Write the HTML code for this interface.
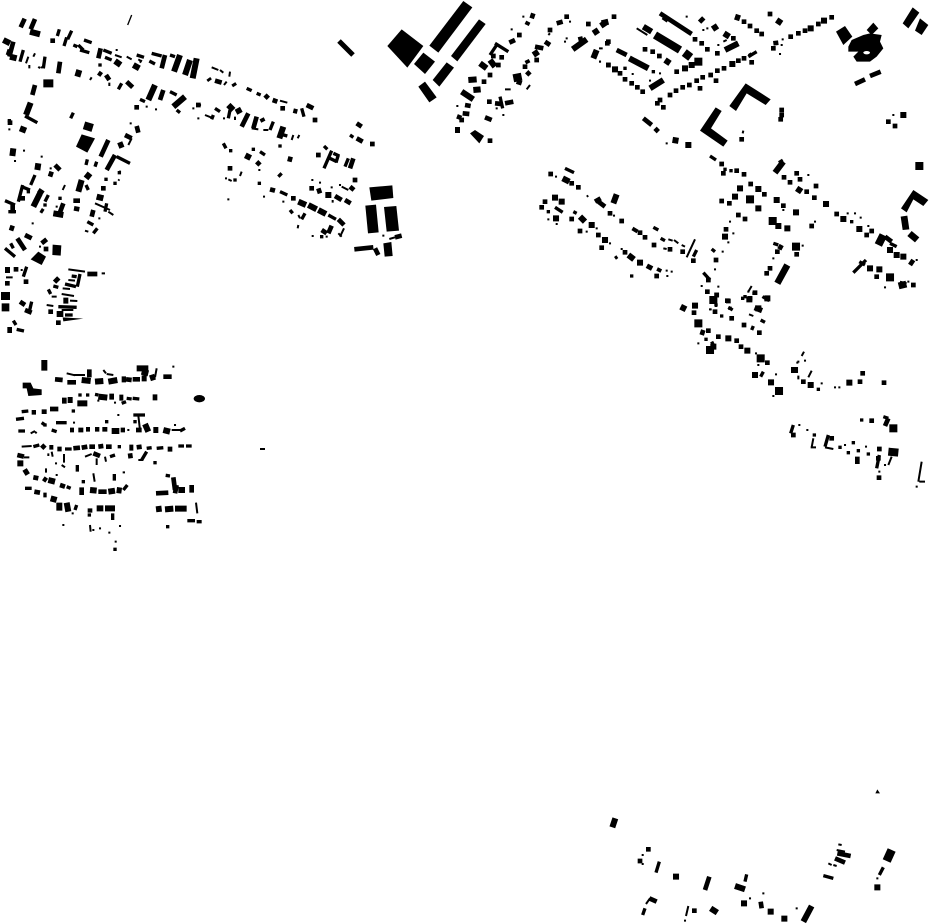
<!DOCTYPE html>
<html><head><meta charset="utf-8"><title>Map</title>
<style>
html,body{margin:0;padding:0;background:#fff}
svg{display:block}
path{fill:none;stroke:#000}
polygon,ellipse{fill:#000;stroke:none}
.a,.A{stroke-width:6}.b,.B{stroke-width:10}.c,.C{stroke-width:14}.e,.E{stroke-width:18}.f,.F{stroke-width:24}
.A,.B,.C,.E,.F{stroke-linecap:square}
</style></head><body>
<svg width="930" height="924" viewBox="0 0 930 924" xmlns="http://www.w3.org/2000/svg">
<rect width="930" height="924" fill="#fff"/>
<path d="M339 41L353 55" style="stroke-width:5"/>
<path d="M260 449L265 449" style="stroke-width:2"/>

<!-- region 1 -->
<g transform="scale(.33333)">
<path d="M395 45L383 75" style="stroke-width:4"/>
<path class="a" d="M345 165L365 172M380 170L395 178M415 178L425 185M85 170L78 190M105 160L100 170M88 195L88 205M115 200L120 205M275 232L270 240M328 248L328 258M395 415L385 435M425 180L420 188"/>
<path class="b" d="M178 88L172 108M215 92L203 118M200 112L192 138M220 135L232 140M252 120L275 128M240 150L268 158M235 135L250 150M310 150L335 160M315 172L335 180M410 165L432 172M455 160L485 168M448 183L465 192M510 165L525 170M70 150L60 185M135 170L130 205M365 250L355 268M75 348L112 368M220 338L212 355M350 470L390 490M262 478L258 495M290 485L285 500M420 298L435 305M510 275L530 285M530 330L540 338"/>
<path class="c" d="M62 82L74 56M105 57L92 88M302 145L295 175M495 165L485 205M40 125L28 170M180 185L175 220M295 218L305 225M318 225L328 240M380 245L398 262M105 255L97 285M325 420L302 470M410 378L415 398M375 405L395 415M345 465L320 510M490 270L480 300M165 495L180 510"/>
<path class="e" d="M90 95L120 103M345 183L362 195M400 195L418 205M10 120L30 130M20 155L35 160M30 170L50 175M92 308L78 345M60 385L78 392M355 438L370 432M40 445L37 468M115 490L112 510M465 255L445 300M555 290L520 320M570 180L555 225M590 175L578 235M540 165L522 215M238 210L232 230"/>
<path class="f" d="M130 250L160 250M252 376L278 384"/>
<path class="A" d="M72 452h.1M45 483h.1M125 470h.1M152 505h.1M440 320h.1M468 328h.1M580 325h.1M595 355h.1M28 388h.1M392 370h.1M350 150h.1M125 202h.1"/>
<path class="B" d="M28 362h.1M300 195h.1"/>
<path class="C" d="M158 122h.1M410 322h.1M595 315h.1M30 368h.1"/>
<polygon points="245,403 285,415 262,458 228,440"/>
</g>

<!-- region 2 -->
<g transform="translate(0,170) scale(.33333)">
<path class="a" d="M195 45L188 60M358 28L355 32M285 100L330 120M325 125L340 135M255 182L265 185M18 322L38 322M205 298L255 305M305 310L315 310M205 330L225 332M188 355L210 357M185 372L222 378M155 380L170 380M210 392L232 393M140 405L160 408M185 420L220 420"/>
<path class="b" d="M105 15L92 45M68 45L55 95M65 50L90 60M145 75L135 95M15 92L45 105M25 125L48 125M320 100L315 125M262 155L280 165M292 175L280 190M258 45L265 60M15 235L45 260M32 220L40 235M80 290L70 320M95 395L88 425M40 452L48 465M50 478L72 483M215 318L230 320M240 312L232 350M195 342L228 350M160 348L175 352M145 358L152 372M175 410L230 412M195 435L218 435"/>
<path class="c" d="M155 5L150 20M75 85L60 85M115 60L130 70M122 120L130 125M190 100L175 140M38 105L38 130M220 92L240 92M222 115L238 118M280 120L275 140M38 167L33 182M52 205L75 240M75 195L95 205M140 208L125 220M60 395L75 405M75 420L95 428M262 312L292 312"/>
<path class="e" d="M270 10L258 25M245 30L235 65M120 70L100 110M160 130L190 135M290 80L310 85M15 300L30 300M22 480L36 480M165 325L175 335M190 392L205 392M170 432L190 432"/>
<path class="f" d="M3 378L30 378M5 412L28 412"/>
<path class="A" d="M360 5h.1M170 110h.1M298 145h.1M98 160h.1M120 230h.1M65 300h.1"/>
<path class="B" d="M345 40h.1M85 65h.1M135 105h.1M180 85h.1M318 28h.1M358 8h.1"/>
<path class="C" d="M310 55h.1M48 298h.1M22 340h.1M78 335h.1M138 237h.1M152 425h.1M175 458h.1"/>
<polygon points="158,224 184,226 182,257 157,255"/>
<polygon points="115,245 138,260 125,285 92,268"/>
<polygon points="188,442 250,446 190,454"/>
</g>

<!-- region 3 -->
<g transform="translate(0,350) scale(.33333)">
<path class="a" d="M200 70L225 76M218 75L255 75M310 60L318 70M320 72L340 75M470 55L465 82M415 197L420 240M92 250L105 243M105 245L110 250M515 240L540 240M65 290L95 288M72 322L88 322M145 310L145 318M155 305L158 320M192 312L192 338M255 320L275 312M290 325L290 345M315 320L318 335M415 330L430 330M185 345L195 352M138 355L138 368M368 367L375 367M280 370L284 395M588 458L592 490M270 525L272 545"/>
<path class="b" d="M398 145L418 147M380 145L395 147M65 185L85 183M48 208L72 205M400 195L435 195M168 218L200 218M55 243L75 243M125 218L135 225M155 240L170 245M540 243L555 235M100 290L118 285M195 297L215 297M358 295L358 285M440 295L455 293M470 295L490 293M535 288L552 288M558 288L575 288M330 320L345 315M440 305L425 330M232 345L232 365M343 372L343 392M75 415L95 415M200 410L212 415M245 395L255 395M370 420L382 405M497 376L510 378M230 465L225 480M338 490L338 510M562 512L585 512M590 515L605 515M365 160L378 155M235 135L245 135M258 135L268 135M285 133L295 135"/>
<path class="c" d="M165 88L188 90M268 58L268 82M202 97L228 97M378 88L395 90M398 88L420 88M490 80L515 80M95 187L108 187M125 185L140 185M150 177L175 177M210 240L222 240M235 240L250 240M258 238L270 238M285 238L298 238M307 238L322 238M362 240L375 240M408 240L425 240M125 285L135 295M148 292L160 292M172 297L185 297M220 295L240 293M245 293L262 290M268 290L285 290M295 290L310 288M318 290L335 290M410 292L425 290M510 290L510 305M52 315L72 320M280 310L300 318M390 310L392 325M100 382L115 385M130 385L140 392M180 405L195 410M103 425L120 428M130 435L140 435M245 412L245 435M295 425L320 425M520 382L525 420M575 405L575 428M468 430L505 428M270 475L270 488M525 430L530 405"/>
<path class="e" d="M133 30L133 62M245 90L272 93M285 95L310 93M325 95L352 90M365 88L378 88M425 85L440 85M410 55L445 55M425 65L445 70M450 85L465 80M186 152L200 152M203 150L218 150M232 160L262 160M295 140L322 143M328 140L342 140M358 143L370 143M458 142L472 142M335 243L358 243M435 222L445 245M460 240L475 240M490 240L510 245M388 293L400 293M52 340L70 340M85 362L72 370M145 390L165 395M152 445L170 450M270 420L290 422M325 425L345 422M350 420L365 422M535 420L555 420M178 458L178 482M200 458L205 485M290 475L310 475M315 475L345 475M468 478L485 476M495 478L520 476M525 476L560 476"/>
<path class="A" d="M520 50h.1M295 152h.1M345 158h.1M355 195h.1M222 218h.1M525 225h.1M385 240h.1M168 340h.1M170 375h.1M218 490h.1M190 525h.1M280 540h.1M300 535h.1M360 528h.1M328 548h.1M347 575h.1"/>
<path class="B" d="M220 183h.1M405 215h.1M320 215h.1M135 225h.1M268 495h.1M503 530h.1M345 598h.1M465 338h.1"/>
<ellipse cx="598" cy="146" rx="17" ry="11"/>
<polygon points="68,98 92,98 100,115 125,118 125,135 85,138 80,115 68,115"/>
</g>

<!-- region 4 -->
<g transform="translate(200,60) scale(.33333)">
<path class="a" d="M35 22L55 30M60 30L70 38M90 35L88 50M80 65L72 75M240 122L262 128M15 165L40 175M105 170L105 180M155 205L175 208M190 210L205 210M280 225L275 240M298 225L293 235M125 335L120 348M85 358L95 363M425 380L445 390M432 505L420 530M415 520L425 530M295 465L300 475M295 495L293 505"/>
<path class="b" d="M140 85L155 92M170 100L182 105M305 145L312 170M450 225L460 232M90 150L85 175M220 185L210 210M240 222L262 228M70 250L78 265M180 275L195 285M245 340L235 350M372 258L382 268M395 272L372 325M400 280L418 288M415 285L408 308M390 295L410 305M445 295L435 320M240 395L262 405M270 450L278 460M315 460L305 478M385 465L408 478M45 145L60 155M40 165L35 178"/>
<path class="c" d="M25 55L30 62M45 62L65 68M100 70L105 78M195 105L205 115M218 120L232 125M280 152L292 155M320 135L340 145M470 190L485 200M470 235L488 245M145 160L125 200M170 170L160 205M185 175L190 185M170 305L180 315M272 290L268 305M460 295L450 325M450 380L462 390M355 385L360 400M405 408L425 420M435 420L452 430M210 388L225 392M415 478L432 495M395 497L385 520M365 510L380 520M463 568L520 562M525 565L535 585M585 532L605 527"/>
<path class="e" d="M85 135L100 150M112 145L120 160M250 200L238 235M148 282L140 298M295 425L318 435M325 435L350 448M355 450L378 462"/>
<path class="a" d="M568 537L585 532M398 420L398 428"/>
<path class="A" d="M0 135h.1M72 175h.1M178 330h.1M78 355h.1M337 360h.1M360 368h.1M395 382h.1M420 375h.1M192 410h.1M250 425h.1M338 528h.1M380 530h.1M85 418h.1M550 527h.1"/>
<path class="B" d="M160 268h.1M105 360h.1M178 370h.1M92 272h.1M365 530h.1M240 258h.1"/>
<path class="C" d="M248 145h.1M345 180h.1M517 252h.1M355 285h.1M90 325h.1M465 360h.1M335 385h.1M280 415h.1"/>
<path class="E" d="M385 405h.1"/>
<polygon points="508,382 577,376 580,414 514,422"/>
<polygon points="496,437 528,434 536,517 504,520"/>
<polygon points="552,441 589,438 597,512 560,515"/>
<polygon points="550,550 574,546 578,588 554,590"/>
</g>

<!-- region 5 -->
<g transform="translate(380,0) scale(.33333)">
<polygon points="65,88 130,138 82,203 22,138"/>
<polygon points="250,3 277,22 175,158 148,137"/>
<polygon points="297,58 317,72 232,184 213,168"/>
<polygon points="130,158 165,185 135,222 102,192"/>
<polygon points="200,187 222,203 178,260 158,240"/>
<polygon points="135,245 170,292 148,307 115,260"/>
<polygon points="270,400 285,390 312,408 298,430"/>
<path class="a" d="M375 268L392 268M440 268L450 255M505 105L510 100"/>
<path class="b" d="M350 135L330 165M345 130L385 155M360 290L368 325"/>
<path class="c" d="M460 40L455 55M440 75L445 65M388 128L405 120M345 310L365 312M315 352L335 360M255 315L272 318M248 340L268 342M240 345L235 358M375 310L400 305M410 245L425 250M440 225L450 215M440 180L445 190M465 140L490 145M495 125L510 135M530 70L548 65M600 110L605 130"/>
<path class="e" d="M300 190L320 205M330 180L345 200M265 240L290 238M245 275L280 298M460 165L475 155M578 148L620 118M640 100L655 90M665 65L675 80M650 150L640 175M280 270L302 268M225 390L240 390"/>
<path class="f" d="M400 235L425 230"/>
<path class="A" d="M430 50h.1M395 88h.1M232 318h.1M370 345h.1M350 325h.1M555 125h.1M560 115h.1M570 65h.1M665 145h.1M660 185h.1"/>
<path class="C" d="M418 105h.1M340 168h.1M365 172h.1M355 195h.1M330 225h.1M312 245h.1M245 360h.1M330 422h.1M328 305h.1M435 200h.1M470 180h.1M510 90h.1M560 50h.1M625 72h.1M682 130h.1M685 195h.1"/>
</g>

<!-- region 6 -->
<g transform="translate(600,0) scale(.33333)">
<polygon points="938,22 958,38 925,85 908,70"/>
<polygon points="960,55 985,75 965,105 945,92"/>
<polygon points="735,78 757,110 730,135 708,95"/>
<polygon points="820,68 835,85 815,105 800,90"/>
<polygon points="755,120 790,105 810,100 845,105 840,125 850,145 830,170 810,185 770,185 760,170 775,155 745,155 745,140"/>
<ellipse cx="800" cy="158" rx="10" ry="5" style="fill:#fff"/>
<polygon points="437,250 512,298 497,315 440,280 408,333 388,318"/>
<polygon points="347,322 365,333 333,385 383,422 370,440 300,392"/>
<path class="a" d="M370 125L380 120M110 85L142 105M430 392L428 400"/>
<path class="b" d="M445 170L470 155M448 160L455 170"/>
<path class="c" d="M180 40L275 102M50 150L80 165M765 252L795 238M810 228L842 215M520 130L535 128M130 355L155 375M175 385L165 395"/>
<path class="e" d="M190 50L205 60M300 55L310 65M340 75L350 90M372 100L388 110M405 50L420 55M530 60L545 70M130 80L155 95M375 150L415 130M88 175L145 205M195 180L210 190M150 265L190 240M228 412L225 430M5 70L25 65"/>
<path class="f" d="M165 105L240 150M270 155L255 175"/>
<path class="A" d="M260 50h.1M310 90h.1M322 85h.1M355 135h.1M0 145h.1M0 185h.1M98 222h.1M150 242h.1M180 220h.1M548 118h.1M545 135h.1M540 162h.1M880 345h.1M200 430h.1"/>
<path class="B" d="M75 205h.1M160 215h.1"/>
<path class="C" d="M42 50h.1M432 65h.1M450 78h.1M470 92h.1M485 102h.1M510 42h.1M285 118h.1M305 130h.1M322 148h.1M352 160h.1M400 115h.1M25 125h.1M135 148h.1M158 155h.1M178 168h.1M25 195h.1M60 220h.1M75 238h.1M95 250h.1M112 262h.1M128 275h.1M230 215h.1M180 300h.1M210 285h.1M228 272h.1M248 262h.1M268 255h.1M290 242h.1M308 232h.1M332 225h.1M352 212h.1M372 205h.1M415 182h.1M432 175h.1M455 187h.1M300 265h.1M348 242h.1M172 310h.1M190 322h.1M520 145h.1M572 110h.1M595 100h.1M615 92h.1M655 72h.1M695 52h.1M545 330h.1M545 345h.1M542 358h.1M425 418h.1M865 365h.1M885 378h.1"/>
<path class="E" d="M45 208h.1M255 205h.1M275 195h.1M397 192h.1M632 85h.1M672 62h.1M910 345h.1M265 435h.1"/>
<path class="F" d="M295 185h.1"/>
</g>

<!-- region 7 -->
<g transform="translate(530,150) scale(.33333)">
<path class="a" d="M495 268L470 322M170 140L175 137M415 268L428 272M432 270L445 280M400 295L410 297M455 285L465 290"/>
<path class="b" d="M105 55L132 68M75 172L98 187M130 185L140 190M262 320L255 325M370 232L385 240M392 265L405 272M500 300L490 320"/>
<path class="c" d="M195 155L212 145M205 155L225 170M390 355L385 365"/>
<path class="e" d="M98 85L118 95M260 133L250 160M150 200L165 215M295 315L312 328M362 345L355 358M318 235L312 245"/>
<path class="A" d="M78 80h.1M252 197h.1M55 208h.1M80 222h.1M200 235h.1M170 245h.1M240 280h.1M275 297h.1M410 362h.1M425 365h.1M412 378h.1"/>
<path class="B" d="M55 185h.1M305 378h.1"/>
<path class="C" d="M62 72h.1M125 100h.1M145 112h.1M240 190h.1M275 213h.1M45 155h.1M35 172h.1M125 207h.1M150 243h.1M205 255h.1M215 293h.1M285 307h.1M330 248h.1M345 262h.1M372 285h.1M420 298h.1M458 305h.1M490 332h.1M380 378h.1"/>
<path class="E" d="M75 143h.1M95 155h.1M78 205h.1M185 225h.1M225 270h.1M330 338h.1"/>
</g>

<!-- region 8 -->
<g transform="translate(700,150) scale(.33333)">
<polygon points="640,120 685,150 670,168 640,148 620,187 603,175"/>
<polygon points="602,200 622,197 628,238 608,240"/>
<polygon points="635,243 658,262 645,277 622,258"/>
<path class="a" d="M155 408L145 425M600 395L620 400"/>
<path class="b" d="M30 18L48 30M498 330L460 368M478 335L495 345M220 280L235 285M35 297L45 305M10 368L30 390M570 280L590 290"/>
<path class="c" d="M240 30L245 38M245 285L238 298M640 330L630 345M555 260L575 275"/>
<path class="e" d="M250 35L225 68M290 115L305 125"/>
<path style="stroke-width:20" d="M262 345L232 400"/>
<path class="f" d="M550 255L535 285M605 395L610 415"/>
<path class="A" d="M325 75h.1M250 180h.1M90 215h.1M100 250h.1M85 277h.1M345 215h.1M443 190h.1M465 190h.1M482 203h.1M505 228h.1M650 330h.1M555 412h.1M625 395h.1M308 287h.1M220 325h.1M68 305h.1M45 358h.1M55 410h.1M5 408h.1M48 468h.1M30 478h.1"/>
<path class="B" d="M75 58h.1M93 62h.1M455 215h.1M135 440h.1M90 475h.1"/>
<path class="C" d="M65 42h.1M70 70h.1M110 62h.1M132 73h.1M252 82h.1M270 97h.1M290 70h.1M300 88h.1M320 125h.1M343 143h.1M348 108h.1M152 102h.1M193 133h.1M65 153h.1M88 160h.1M250 167h.1M115 195h.1M135 207h.1M78 238h.1M335 228h.1M410 192h.1M515 243h.1M500 255h.1M530 380h.1M640 405h.1M232 305h.1M290 313h.1M210 355h.1M200 370h.1M48 330h.1M25 390h.1M22 425h.1M50 435h.1M165 428h.1M150 445h.1M85 453h.1"/>
<path class="E" d="M120 115h.1M175 117h.1M105 140h.1M175 175h.1M230 150h.1M288 187h.1M75 260h.1M235 228h.1M262 235h.1M378 162h.1M430 207h.1M478 237h.1M570 300h.1M590 315h.1M610 320h.1M510 355h.1M538 358h.1M40 452h.1M202 445h.1M175 475h.1"/>
<path class="F" d="M150 148h.1M218 213h.1M658 48h.1M570 382h.1M288 290h.1"/>
</g>

<!-- region 9 -->
<g transform="translate(670,290) scale(.33333)">
<path class="a" d="M237 73L250 78"/>
<path class="b" d="M175 52L188 60M272 90L285 97M250 108L245 120M280 245L272 260M125 155L130 165"/>
<path class="c" d="M100 120L95 135"/>
<path class="e" d="M32 50L48 58"/>
<path class="f" d="M290 22L285 30M268 50L262 65"/>
<path class="A" d="M113 5h.1M122 58h.1M235 5h.1M85 160h.1M258 190h.1M265 225h.1M318 253h.1M310 318h.1M385 215h.1M385 265h.1"/>
<path class="B" d="M138 45h.1M155 78h.1M218 25h.1M252 10h.1M108 148h.1"/>
<path class="C" d="M72 68h.1M140 15h.1M135 65h.1M172 32h.1M185 85h.1M222 105h.1M268 128h.1M115 122h.1M145 140h.1M200 152h.1M213 170h.1M292 218h.1"/>
<path class="E" d="M75 47h.1M238 28h.1M130 170h.1M175 145h.1M232 182h.1M255 255h.1M303 277h.1M375 240h.1"/>
<path class="F" d="M130 30h.1M85 100h.1M120 180h.1M272 205h.1M327 303h.1"/>
</g>

<!-- region 10 -->
<g transform="translate(780,340) scale(.33333)">
<path class="a" d="M72 35L65 48M95 92L85 112M100 295L95 322M92 322L108 322M135 322L160 327M335 350L325 375M425 365L415 425M418 425L435 425"/>
<path class="b" d="M40 255L32 280M145 285L135 320M298 345L290 385M310 230L325 235"/>
<path class="c" d="M232 350L232 372M325 235L315 258"/>
<path class="f" d="M325 335L355 338"/>
<path class="A" d="M75 62h.1M52 68h.1M55 110h.1M125 130h.1M165 142h.1M178 142h.1M0 155h.1M58 255h.1M82 270h.1M195 315h.1M258 320h.1M298 395h.1M315 375h.1M410 440h.1"/>
<path class="B" d="M115 148h.1M245 240h.1M103 285h.1M180 322h.1M220 308h.1M205 338h.1M235 332h.1M265 342h.1"/>
<path class="C" d="M70 125h.1M248 100h.1M240 125h.1M312 128h.1M275 242h.1M40 285h.1M155 295h.1M298 327h.1M295 355h.1M297 413h.1"/>
<path class="E" d="M42 90h.1M92 135h.1M208 128h.1"/>
<path class="F" d="M340 265h.1"/>
</g>

<!-- region 11 -->
<g transform="translate(600,780) scale(.33333)">
<polygon points="826,40 840,40 832,28"/>
<path class="a" d="M715 193L725 195M710 210L735 215M700 255L710 258M685 250L695 255M150 355L138 372M265 378L258 408"/>
<path class="b" d="M178 245L168 278M440 283L435 305M135 385L128 405M850 262L838 285M670 287L700 295"/>
<path class="c" d="M328 290L315 330M482 365L485 385M148 355L170 365M712 220L752 228M705 235L735 248"/>
<path class="e" d="M46 115L37 142M405 318L435 328M635 378L610 425M332 385L352 398"/>
<path style="stroke-width:26" d="M875 210L860 243"/>
<path class="A" d="M128 225h.1M128 252h.1M450 355h.1M490 340h.1M590 385h.1M255 422h.1M832 295h.1"/>
<path class="C" d="M145 208h.1M120 243h.1M283 392h.1"/>
<path class="E" d="M228 290h.1M432 370h.1M512 395h.1M553 416h.1M832 322h.1"/>
</g>
</svg>
</body></html>
